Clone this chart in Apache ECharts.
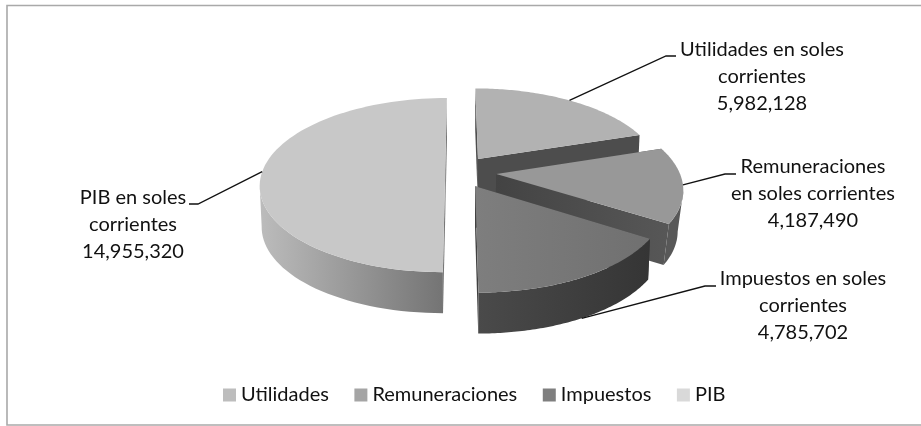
<!DOCTYPE html>
<html><head><meta charset="utf-8">
<style>html,body{margin:0;padding:0;background:#fff}#c{width:921px;height:426px}</style>
<script src="https://cdn.jsdelivr.net/npm/echarts@6/dist/echarts.min.js"></script></head>
<body><div id="c"></div>
<script>
const categories = ['Utilidades', 'Remuneraciones', 'Impuestos', 'PIB'];
const values = [5982128, 4187490, 4785702, 14955320];
const labelNames = ['Utilidades en soles\ncorrientes', 'Remuneraciones\nen soles corrientes', 'Impuestos en soles\ncorrientes', 'PIB en soles\ncorrientes'];
const legendColors = ['#bdbdbd', '#a5a5a5', '#7f7f7f', '#d9d9d9'];
const topColors = ['#b2b2b2', '#989898', ['#7e7e7e', '#707070'], '#c8c8c8'];
const wallColors = [['#4d4d4d', '#4d4d4d'], ['#585858', '#585858'], ['#4a4a4a', '#353535'], ['#bcbcbc', '#747474']];
const faceColors = [['#4d4d4d', '#4d4d4d'], ['#434343', '#575757'], ['#404040', '#404040'], ['#777777', '#777777']];
const explode = [0.19, 0.21, 0.19, 0.07];
const taper = [0.99, 0.975, 0.99, 0.99];
const labelPos = [[762, 77], [813, 194], [803, 306], [133, 225]];
const elbows = [[[666, 56], [676, 56]], [[725, 174], [736, 174]], [[705, 286], [716, 286]], [[198, 204], [189, 204]]];
const anchorOnBase = [false, false, true, false];

const FONT = 'Lato';
const X0 = 458, Y0 = 171.7, B = 183, A = 85, D = 6.5, H = 41;
const total = values.reduce((a, b) => a + b, 0);
const starts = [];
values.reduce((acc, v, i) => { starts[i] = acc; return acc + v; }, 0);

function proj(X, Y) {
  const s = 1 / (1 - Y / D);
  return [X0 + B * X * s, Y0 + A * Y * s];
}
function base(p, i) { return [X0 + (p[0] - X0) * taper[i], p[1] + H]; }

function sliceShape(i, value) {
  const t0 = starts[i] / total * Math.PI * 2;
  const t1 = t0 + value / total * Math.PI * 2;
  const mid = (t0 + t1) / 2;
  const ox = explode[i] * Math.sin(mid), oy = -explode[i] * Math.cos(mid);
  const at = t => proj(ox + Math.sin(t), oy - Math.cos(t));
  const arc = [];
  const n = 80;
  for (let k = 0; k <= n; k++) arc.push(at(t0 + (t1 - t0) * k / n));
  return { apex: proj(ox, oy), arc, midPt: at(mid) };
}
function grad(c) {
  return { type: 'linear', x: 0, y: 0, x2: 1, y2: 0, colorStops: [{ offset: 0, color: c[0] }, { offset: 1, color: c[1] }] };
}
function fmt(v) { return v.toLocaleString('en-US'); }
// the part of the rim that faces the viewer: from the sideways extreme to the lowest end
function frontRim(arc) {
  let im = 0, best = -1;
  arc.forEach((p, k) => { const d = Math.abs(p[0] - X0); if (d > best) { best = d; im = k; } });
  return arc[0][1] > arc[arc.length - 1][1] ? arc.slice(0, im + 1) : arc.slice(im);
}

function renderSlice(i) {
  return function (params, api) {
    const value = api.value(0);
    const s = sliceShape(i, value);
    const poly = (pts, fill) => ({ type: 'polygon', shape: { points: pts }, style: { fill, stroke: null, lineWidth: 0 }, silent: true });
    const first = s.arc[0], last = s.arc[s.arc.length - 1];
    const a = s.apex;
    const rim = frontRim(s.arc);
    const rimB = rim.map(p => base(p, i));
    const children = [
      poly([a, first, base(first, i), base(a, i)], grad(faceColors[i])),
      poly([a, last, base(last, i), base(a, i)], grad(faceColors[i]))
    ];
    if (rim.length > 1) children.push(poly(rim.concat(rimB.slice().reverse()), grad(wallColors[i])));
    children.push(poly([a].concat(s.arc), Array.isArray(topColors[i]) ? grad(topColors[i]) : topColors[i]));
    return { type: 'group', children };
  };
}
function renderLabels(params, api) {
  const i = params.dataIndex;
  const s = sliceShape(i, values[i]);
  const start = anchorOnBase[i] ? base(s.midPt, i) : s.midPt;
  return {
    type: 'group', silent: true,
    children: [
      { type: 'polyline', shape: { points: [start].concat(elbows[i]) }, style: { stroke: '#111', lineWidth: 1.3, fill: 'none' } },
      { type: 'text', x: labelPos[i][0], y: labelPos[i][1], style: { text: labelNames[i] + '\n' + fmt(values[i]), font: '20px ' + FONT, fill: '#111', align: 'center', verticalAlign: 'middle', lineHeight: 27 } }
    ]
  };
}

const series = categories.map((name, i) => ({
  type: 'custom', name, coordinateSystem: 'none', silent: true, animation: false,
  z: i === 3 ? 1 : 2 + i,
  renderItem: renderSlice(i),
  data: [[values[i]]]
}));
series.push({
  type: 'custom', coordinateSystem: 'none', silent: true, animation: false, z: 10,
  renderItem: renderLabels,
  data: values.map(v => [v])
});

const chart = echarts.init(document.getElementById('c'), null, { renderer: 'canvas' });
chart.setOption({
  animation: false,
  backgroundColor: '#fff',
  color: legendColors,
  graphic: [{ type: 'polyline', shape: { points: [[921, 5.5], [7, 5.5], [7, 425], [921, 425]] }, style: { fill: 'none', stroke: '#a9a9a9', lineWidth: 1.6 }, silent: true }],
  legend: {
    data: categories, left: 218, top: 380, itemWidth: 13, itemHeight: 13, itemGap: 25.5, icon: 'rect',
    textStyle: { fontFamily: FONT, fontSize: 20, color: '#111' }, selectedMode: false
  },
  series
});
</script></body></html>
